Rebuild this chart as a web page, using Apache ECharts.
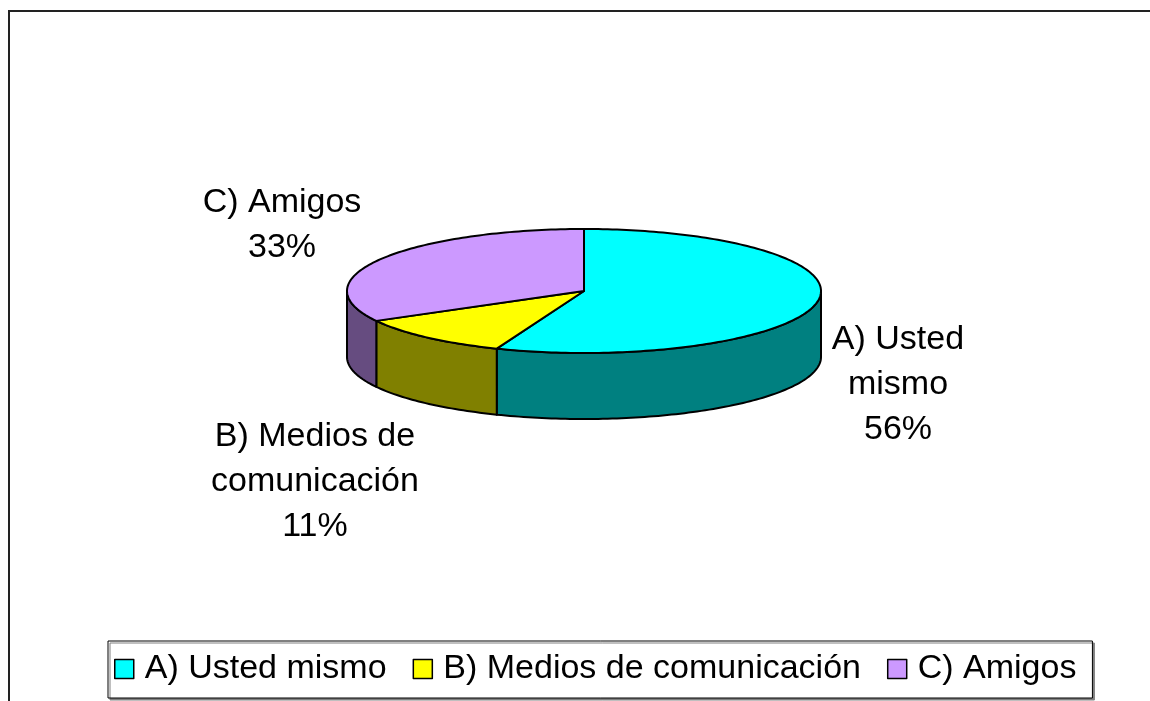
<!DOCTYPE html>
<html>
<head>
<meta charset="utf-8">
<script src="https://cdn.jsdelivr.net/npm/echarts@6/dist/echarts.min.js"></script>
<style>
  html, body { margin: 0; padding: 0; background: #fff; }
  #main { width: 1150px; height: 701px; }
</style>
</head>
<body>
<div id="main"></div>
<script>
// datos del grafico
var categories = ['A) Usted mismo', 'B) Medios de comunicación', 'C) Amigos'];
var labelNames = ['A) Usted\nmismo', 'B) Medios de\ncomunicación', 'C) Amigos'];
var values = [56, 11, 33];
var topColors = ['#00FFFF', '#FFFF00', '#CC99FF'];
var sideColors = ['#008080', '#808000', '#664C80'];

// geometria del pastel 3d
var cx = 584, cy = 291, rx = 237, ry = 62, depth = 66;
var labelPos = [[898, 385], [315, 482], [282, 225]];

var total = values.reduce(function (a, b) { return a + b; }, 0);

function pt(t, dy) {
  return [cx + rx * Math.sin(t), cy - ry * Math.cos(t) + (dy || 0)];
}
function arc(a, b, dy) {
  var pts = [];
  var n = Math.max(2, Math.ceil((b - a) / 0.02));
  for (var i = 0; i <= n; i++) pts.push(pt(a + (b - a) * i / n, dy));
  return pts;
}

var myChart = echarts.init(document.getElementById('main'));

function renderSlice(params, api) {
  var idx = params.dataIndex;
  var before = 0;
  for (var i = 0; i < idx; i++) before += values[i];
  var v = api.value(0);
  var a0 = before / total * Math.PI * 2;
  var a1 = (before + v) / total * Math.PI * 2;
  var children = [];

  // cara lateral (solo la mitad delantera)
  var s = Math.max(a0, Math.PI / 2), e = Math.min(a1, Math.PI * 1.5);
  if (s < e) {
    var side = arc(s, e, 0).concat(arc(s, e, depth).reverse());
    children.push({
      type: 'polygon',
      shape: { points: side },
      style: { fill: sideColors[idx], stroke: '#000', lineWidth: 2, lineJoin: 'round' }
    });
  }
  // cara superior
  var top = [[cx, cy]].concat(arc(a0, a1, 0));
  children.push({
    type: 'polygon',
    shape: { points: top },
    style: { fill: topColors[idx], stroke: '#000', lineWidth: 2, lineJoin: 'round' }
  });
  // etiqueta
  children.push({
    type: 'text',
    x: labelPos[idx][0],
    y: labelPos[idx][1],
    style: {
      text: labelNames[idx] + '\n' + Math.round(v / total * 100) + '%',
      fill: '#000',
      font: '34px "Liberation Sans", Arial, sans-serif',
      lineHeight: 45,
      align: 'center',
      verticalAlign: 'middle'
    }
  });
  return { type: 'group', children: children };
}

var option = {
  backgroundColor: '#fff',
  animation: false,
  graphic: [{
    type: 'rect',
    shape: { x: 9, y: 11, width: 1300, height: 900 },
    style: { fill: 'none', stroke: '#222', lineWidth: 2 },
    silent: true
  }],
  legend: {
    data: categories,
    left: 108,
    top: 641,
    orient: 'horizontal',
    icon: 'rect',
    itemWidth: 19,
    itemHeight: 19,
    itemGap: 26,
    padding: [11, 16, 12, 6],
    backgroundColor: '#fff',
    borderColor: '#000',
    borderWidth: 1,
    shadowColor: '#808080',
    shadowOffsetX: 2,
    shadowOffsetY: 2,
    shadowBlur: 0,
    itemStyle: { borderColor: '#000', borderWidth: 1.5 },
    textStyle: {
      color: '#000',
      fontSize: 34,
      padding: [0, 0, 0, 6],
      fontFamily: '"Liberation Sans", Arial, sans-serif'
    }
  },
  series: [
    {
      type: 'custom',
      coordinateSystem: 'none',
      renderItem: renderSlice,
      data: values.map(function (v, i) { return { name: categories[i], value: v }; })
    },
    {
      // serie auxiliar solo para la leyenda
      type: 'pie',
      radius: [0, 0],
      silent: true,
      label: { show: false },
      labelLine: { show: false },
      data: values.map(function (v, i) {
        return { name: categories[i], value: v, itemStyle: { color: topColors[i] } };
      })
    }
  ]
};

myChart.setOption(option);
</script>
</body>
</html>
